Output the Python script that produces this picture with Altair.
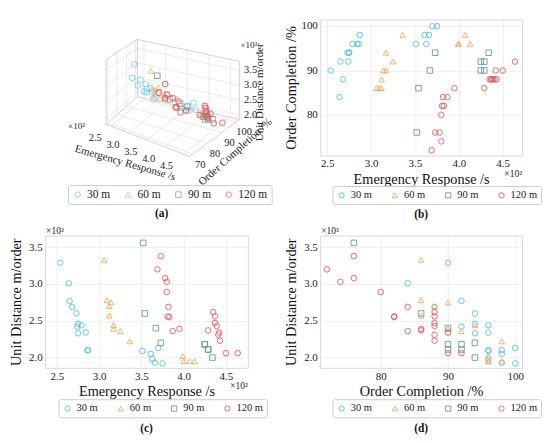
import altair as alt
import pandas as pd

FONT = "Liberation Serif"
groups = ["30 m", "60 m", "90 m", "120 m"]
colors = ["#4fbfe6", "#f0a852", "#5f9c87", "#e2535a"]
shapes = ["circle", "triangle-up", "square", "circle"]

# Emergency response (x10^2 s), order completion (%), unit distance (x10^3 m/order)
er_30 = [2.54, 2.64, 2.65, 2.68, 2.73, 2.75, 2.75, 2.74, 2.79, 2.84, 2.86, 2.87, 3.51, 3.61, 3.63, 3.66, 3.70, 3.75]
oc_30 = [90, 84, 92, 88, 94, 94, 94, 92, 96, 96, 96, 98, 96, 98, 96, 98, 100, 100]
ud_30 = [3.29, 3.01, 2.77, 2.69, 2.60, 2.46, 2.33, 2.42, 2.44, 2.34, 2.10, 2.10, 2.09, 2.05, 1.98, 1.93, 2.13, 1.92]

er_60 = [3.06, 3.09, 3.12, 3.12, 3.14, 3.17, 3.17, 3.25, 3.36, 3.99, 4.00, 4.07, 4.13]
oc_60 = [86, 86, 88, 86, 90, 94, 90, 92, 98, 96, 96, 98, 96]
ud_60 = [3.33, 2.78, 2.70, 2.57, 2.75, 2.44, 2.39, 2.36, 2.22, 2.02, 1.95, 1.95, 1.95]

er_90 = [3.52, 3.54, 3.67, 3.73, 4.25, 4.25, 4.29, 4.29, 4.34]
oc_90 = [76, 86, 90, 94, 90, 92, 90, 92, 94]
ud_90 = [3.56, 2.60, 2.40, 2.20, 2.18, 2.18, 2.11, 2.11, 2.00]

er_120 = [3.69, 3.73, 3.78, 3.80, 3.80, 3.82, 3.81, 3.83, 3.87, 3.95, 4.29, 4.35, 4.37, 4.37, 4.39, 4.41, 4.42, 4.43, 4.50, 4.64]
oc_120 = [72, 76, 76, 74, 80, 84, 82, 82, 84, 86, 86, 88, 88, 88, 88, 88, 90, 88, 90, 92]
ud_120 = [3.20, 3.38, 3.08, 3.03, 2.89, 2.69, 2.56, 2.55, 2.36, 2.39, 2.37, 2.62, 2.56, 2.47, 2.43, 2.31, 2.34, 2.23, 2.06, 2.06]

er_ticks = [2.5, 3.0, 3.5, 4.0, 4.5]
oc_ticks = [70, 80, 90, 100]
ud_ticks = [2.0, 2.5, 3.0, 3.5]

rows = []
for g, ers, ocs, uds in zip(groups, [er_30, er_60, er_90, er_120], [oc_30, oc_60, oc_90, oc_120],
                            [ud_30, ud_60, ud_90, ud_120]):
    for a, b, c in zip(ers, ocs, uds):
        rows.append({"group": g, "er": a, "oc": b, "ud": c})
df = pd.DataFrame(rows)

# ---------- simple 3D projection for panel (a) (pixel frame of panel a) ----------
ER_D = (2.35, 4.70)
OC_D = (68.0, 102.0)
UD_D = (1.84, 3.81)
BOT = {"L": (64, 110), "F": (152, 144), "R": (204, 105), "B": (97, 81)}
TOP = {"L": (64, 42), "F": (152, 70), "R": (204, 44), "B": (97, 21)}


def proj(er, oc, ud):
    te = (er - ER_D[0]) / (ER_D[1] - ER_D[0])
    to = (oc - OC_D[0]) / (OC_D[1] - OC_D[0])
    tu = (ud - UD_D[0]) / (UD_D[1] - UD_D[0])
    w = {"L": (1 - te) * (1 - to), "F": te * (1 - to), "R": te * to, "B": (1 - te) * to}
    bx = sum(w[k] * BOT[k][0] for k in w)
    by = sum(w[k] * BOT[k][1] for k in w)
    tx = sum(w[k] * TOP[k][0] for k in w)
    ty = sum(w[k] * TOP[k][1] for k in w)
    depth = te * 0.5 + (1 - to) * 0.866
    return bx + tu * (tx - bx), by + tu * (ty - by), depth


p3 = df.copy()
pp = [proj(r.er, r.oc, r.ud) for r in df.itertuples()]
p3["px"] = [p[0] for p in pp]
p3["py"] = [p[1] for p in pp]
p3["op"] = [0.35 + 0.65 * p[2] / 1.366 for p in pp]

E0, E1 = ER_D
O0, O1 = OC_D
U0, U1 = UD_D
segs = []
GRID, EDGE = "#e2e2e2", "#c4c4c4"
for e in er_ticks:
    segs.append(((e, O0, U0), (e, O1, U0), GRID))
    segs.append(((e, O1, U0), (e, O1, U1), GRID))
for o in oc_ticks:
    segs.append(((E0, o, U0), (E1, o, U0), GRID))
    segs.append(((E0, o, U0), (E0, o, U1), GRID))
for u in ud_ticks:
    segs.append(((E0, O0, u), (E0, O1, u), GRID))
    segs.append(((E0, O1, u), (E1, O1, u), GRID))
for a, b in [((E0, O0, U0), (E1, O0, U0)), ((E1, O0, U0), (E1, O1, U0)), ((E1, O1, U0), (E0, O1, U0)),
             ((E0, O1, U0), (E0, O0, U0)), ((E0, O0, U0), (E0, O0, U1)), ((E0, O0, U1), (E0, O1, U1)),
             ((E0, O1, U0), (E0, O1, U1)), ((E0, O1, U1), (E1, O1, U1)), ((E1, O1, U0), (E1, O1, U1))]:
    segs.append((a, b, EDGE))
seg_rows = []
for a, b, c in segs:
    pa, pb = proj(*a), proj(*b)
    seg_rows.append({"x1": pa[0], "y1": pa[1], "x2": pb[0], "y2": pb[1], "col": c})
seg_df = pd.DataFrame(seg_rows)

lab_c = []
for e in er_ticks:
    p = proj(e, O0, U0)
    lab_c.append({"px": p[0] - 17, "py": p[1] + 13, "t": f"{e:.1f}"})
for o in oc_ticks:
    p = proj(E1, o, U0)
    lab_c.append({"px": p[0] + 8, "py": p[1] + 11, "t": f"{o}"})
lab_l = []
for u in ud_ticks:
    p = proj(E1, O1, u)
    lab_l.append({"px": p[0] + 5, "py": p[1], "t": f"{u:.1f}"})
lab_c_df = pd.DataFrame(lab_c)
lab_l_df = pd.DataFrame(lab_l)

pm_er = proj((E0 + E1) / 2, O0, U0)
pm_oc = proj(E1, (O0 + O1) / 2, U0)
pm_ud = proj(E1, O1, (U0 + U1) / 2)
p_top = proj(E1, O1, U1)
p_left = proj(E0, O0, U0)
titles = [
    (pm_er[0] - 24, pm_er[1] + 24, "Emergency Response /s", 16, 11.5),
    (pm_oc[0] + 22, pm_oc[1] + 15, "Order Completion /%", 318, 11.5),
    (pm_ud[0] + 22, pm_ud[1] + 2, "Unit Distance m/order", 270, 11.5),
    (p_top[0] + 10, p_top[1] - 17, "×10³", 0, 9.5),
    (p_left[0] - 31, p_left[1] + 2, "×10²", 0, 9.5),
]


def make_legend(x, y, fs=11, colpad=18, symsize=30):
    return alt.Legend(title=None, orient="none", legendX=x, legendY=y, direction="horizontal",
                      strokeColor="#c8c8c8", fillColor="white", padding=4, cornerRadius=2,
                      labelFont=FONT, labelFontSize=fs, labelColor="#222", symbolSize=symsize,
                      symbolStrokeWidth=1, columnPadding=colpad, labelOffset=4)


def group_enc(leg):
    return dict(color=alt.Color("group:N", scale=alt.Scale(domain=groups, range=colors), legend=leg),
                shape=alt.Shape("group:N", scale=alt.Scale(domain=groups, range=shapes), legend=leg))


WA, HA = 245, 210
XS = alt.Scale(domain=[0, WA], nice=False, zero=False)
YS = alt.Scale(domain=[0, HA], nice=False, zero=False, reverse=True)

rules3d = alt.Chart(seg_df).mark_rule(strokeWidth=0.8).encode(
    x=alt.X("x1:Q", scale=XS, axis=None), y=alt.Y("y1:Q", scale=YS, axis=None),
    x2="x2:Q", y2="y2:Q", stroke=alt.Stroke("col:N", scale=None))
pts3d = alt.Chart(p3).mark_point(filled=False, size=34, strokeWidth=1.1).encode(
    x=alt.X("px:Q", scale=XS, axis=None), y=alt.Y("py:Q", scale=YS, axis=None),
    opacity=alt.Opacity("op:Q", scale=None, legend=None),
    **group_enc(make_legend(24, 174, fs=12, colpad=12, symsize=34)))
labs3d_c = alt.Chart(lab_c_df).mark_text(font=FONT, fontSize=11, color="#222", baseline="middle",
                                         align="center").encode(
    x=alt.X("px:Q", scale=XS, axis=None), y=alt.Y("py:Q", scale=YS, axis=None), text="t:N")
labs3d_l = alt.Chart(lab_l_df).mark_text(font=FONT, fontSize=11, color="#222", baseline="middle",
                                         align="left").encode(
    x=alt.X("px:Q", scale=XS, axis=None), y=alt.Y("py:Q", scale=YS, axis=None), text="t:N")
title_layers = []
for tx, ty, tt, ang, fs in titles:
    title_layers.append(
        alt.Chart(pd.DataFrame({"px": [tx], "py": [ty], "t": [tt]})).mark_text(
            font=FONT, color="#222", baseline="middle", align="center", angle=ang, fontSize=fs).encode(
            x=alt.X("px:Q", scale=XS, axis=None), y=alt.Y("py:Q", scale=YS, axis=None), text="t:N"))
cap_a = alt.Chart(pd.DataFrame({"t": ["(a)"]})).mark_text(
    font=FONT, fontSize=12, fontWeight="bold", color="#111").encode(
    x=alt.value(WA / 2), y=alt.value(204), text="t:N")
panel_a = alt.layer(rules3d, pts3d, labs3d_c, labs3d_l, *title_layers, cap_a).properties(
    width=WA, height=HA, view=alt.ViewBackground(stroke="white"))


def axis(vals, fmt, title, ext, lp=3, tp=2):
    return alt.Axis(values=vals, format=fmt, title=title, grid=True, gridColor="#e8e8e8", gridWidth=0.8,
                    ticks=False, domain=False, labelFont=FONT, labelFontSize=11.5, labelColor="#222",
                    titleFont=FONT, titleFontSize=15, titleFontWeight="normal", titleColor="#111",
                    labelPadding=lp, titlePadding=tp, minExtent=ext, maxExtent=ext)


def panel(xf, yf, xdom, ydom, xv, yv, xfmt, yfmt, xt, yt, w, h, legx, legy, cap, capy, xsci, ysci):
    pts = alt.Chart(df).mark_point(filled=False, size=34, strokeWidth=1, opacity=0.9).encode(
        x=alt.X(f"{xf}:Q", scale=alt.Scale(domain=xdom, nice=False, zero=False),
                axis=axis(xv, xfmt, xt, 16, 3, 1)),
        y=alt.Y(f"{yf}:Q", scale=alt.Scale(domain=ydom, nice=False, zero=False),
                axis=axis(yv, yfmt, yt, 21, 3, 2)),
        **group_enc(make_legend(legx, legy)))
    layers = [pts]
    layers.append(alt.Chart(pd.DataFrame({"t": [cap]})).mark_text(
        font=FONT, fontSize=12, fontWeight="bold", color="#111").encode(
        x=alt.value(w / 2), y=alt.value(capy), text="t:N"))
    if xsci:
        layers.append(alt.Chart(pd.DataFrame({"t": ["×10²"]})).mark_text(
            font=FONT, fontSize=10, color="#222", align="right", baseline="middle").encode(
            x=alt.value(w), y=alt.value(h + 19), text="t:N"))
    if ysci:
        layers.append(alt.Chart(pd.DataFrame({"t": ["×10³"]})).mark_text(
            font=FONT, fontSize=10, color="#222", align="left", baseline="middle").encode(
            x=alt.value(1), y=alt.value(-5), text="t:N"))
    return alt.layer(*layers).properties(width=w, height=h)


panel_b = panel("er", "oc", [2.42, 4.72], [70.8, 101.5], er_ticks, [80, 90, 100], ".1f", "d",
                "Emergency Response /s", "Order Completion /%", 212, 143, 13, 175, "(b)", 205, True, False)
panel_c = panel("er", "ud", [2.36, 4.76], [1.86, 3.66], er_ticks, ud_ticks, ".1f", ".1f",
                "Emergency Response /s", "Unit Distance m/order", 213, 139, 14, 172, "(c)", 202, True, True)
panel_d = panel("oc", "ud", [71, 101], [1.86, 3.66], [80, 90, 100], ud_ticks, "d", ".1f",
                "Order Completion /%", "Unit Distance m/order", 212, 139, 13, 172, "(d)", 202, False, True)

ind = dict(color="independent", shape="independent")
chart = alt.concat(panel_a, panel_b, panel_c, panel_d, columns=2, spacing=4).resolve_scale(
    **ind).resolve_legend(**ind).properties(padding=0).configure_view(stroke="#d6d6d6")

chart.save("out.html", embed_options={"renderer": "svg", "actions": False})
